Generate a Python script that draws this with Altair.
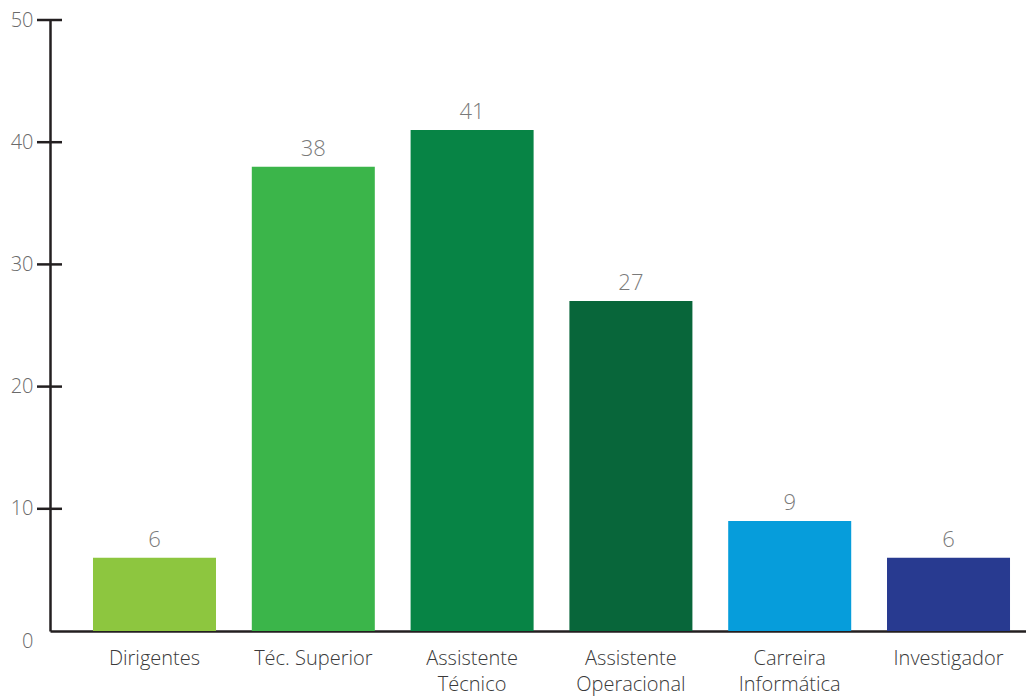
import altair as alt
import pandas as pd

categories = ["Dirigentes", "Téc. Superior", "Assistente Técnico",
              "Assistente Operacional", "Carreira Informática", "Investigador"]
values = [6, 38, 41, 27, 9, 6]
colors = ["#8dc63f", "#3bb54a", "#078445", "#08663a", "#069ddb", "#283a90"]
y_ticks = [0, 10, 20, 30, 40, 50]
cross_ticks = [10, 20, 30, 40, 50]

df = pd.DataFrame({"cat": categories, "val": values})
tdf = pd.DataFrame({"v": cross_ticks})

FONT = "Open Sans"
AXIS_COLOR = "#231f20"

x_enc = alt.X(
    "cat:N", sort=categories, title=None,
    scale=alt.Scale(paddingInner=0.2254, paddingOuter=0.1857, align=0.729),
    axis=alt.Axis(
        ticks=False, domainColor=AXIS_COLOR, domainWidth=2.5,
        labelFont=FONT, labelFontSize=20, labelFontWeight=300, labelColor="#3a3a3a",
        labelPadding=17, labelLineHeight=26, labelAngle=0,
        labelExpr="datum.label == 'Téc. Superior' ? datum.label : split(datum.label, ' ')",
    ),
)
y_enc = alt.Y(
    "val:Q", title=None,
    scale=alt.Scale(domain=[0, 50], nice=False),
    axis=alt.Axis(
        values=y_ticks, ticks=False, grid=False, domainColor=AXIS_COLOR, domainWidth=2.5,
        labelFont=FONT, labelFontSize=20, labelFontWeight=300, labelColor="#6a6a6a",
        labelPadding=17,
        labelOffset={"condition": {"test": "datum.value === 0", "value": 10}, "value": 0},
    ),
)

bars = alt.Chart(df).mark_bar().encode(
    x=x_enc, y=y_enc,
    color=alt.Color("cat:N", scale=alt.Scale(domain=categories, range=colors), legend=None),
)
labels = alt.Chart(df).mark_text(
    baseline="bottom", dy=-6, font=FONT, fontSize=22, fontWeight=300, color="#7a7a7a"
).encode(
    x=alt.X("cat:N", sort=categories), y="val:Q", text="val:Q"
)
ticks = alt.Chart(tdf).mark_rule(color=AXIS_COLOR, strokeWidth=2.5).encode(
    y=alt.Y("v:Q"), x=alt.value(-13), x2=alt.value(12)
)

chart = alt.layer(bars, labels, ticks).properties(
    width=976, height=611,
    autosize=alt.AutoSizeParams(type="none"),
    padding={"left": 42, "top": 12, "right": 0, "bottom": 66},
).configure_view(stroke=None)

chart.save("out.html", embed_options={"renderer": "svg", "actions": False})
